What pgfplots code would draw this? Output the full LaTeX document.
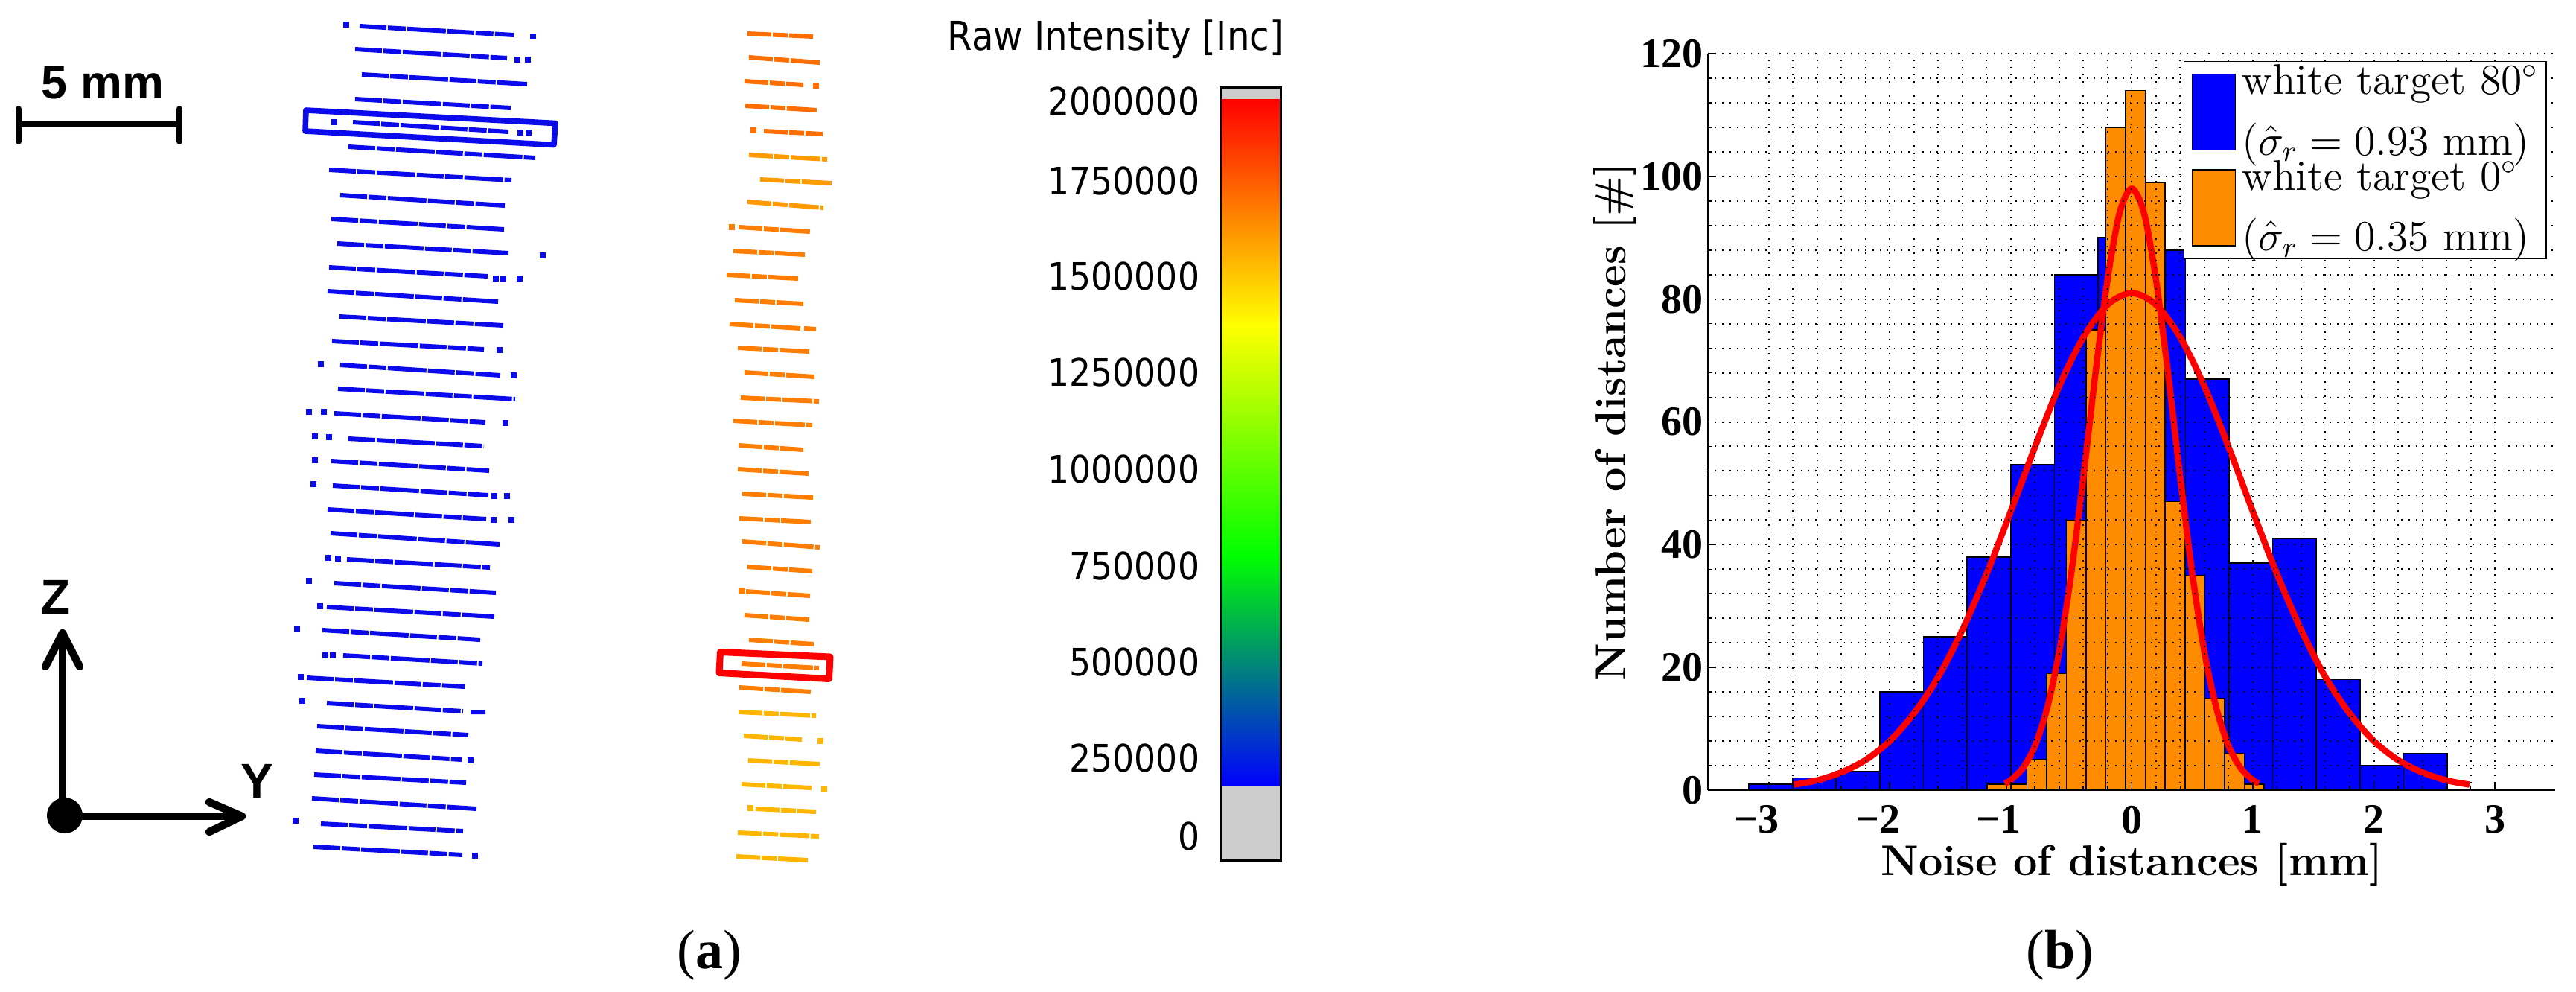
\documentclass[border=0pt]{standalone}
\usepackage{pgfplots}
\pgfplotsset{compat=1.18}
\usepackage{fontspec}
\newfontfamily\cbfont{DejaVu Sans}[FakeStretch=0.9]
\newfontfamily\arial{Liberation Sans}
\newfontfamily\tnr{Liberation Serif}
\definecolor{scanblue}{RGB}{10,10,235}
\definecolor{orA}{RGB}{255,110,0}
\definecolor{orB}{RGB}{255,155,0}
\definecolor{orC}{RGB}{255,125,0}
\definecolor{orD}{RGB}{255,182,0}
\definecolor{histblue}{RGB}{0,0,255}
\definecolor{historange}{RGB}{255,140,0}
\definecolor{cbgray}{RGB}{204,204,204}
\pgfplotsset{bigpatch/.style={legend image code/.code={\draw[##1] (0pt,-12.75pt) rectangle (14.5pt,12.75pt);}}}
\begin{document}
\begin{tikzpicture}
% ---------- panel (a): drawn in an invisible axis whose units are image pixels ----------
\begin{axis}[at={(0,0)}, anchor=south west, x=0.25pt, y=0.25pt, y dir=reverse,
  xmin=0, xmax=3460, ymin=0, ymax=1331, hide axis, clip=false,
  unbounded coords=jump,
  colormap={cbmap}{rgb255=(0,0,255) rgb255=(0,255,0) rgb255=(255,255,0) rgb255=(255,0,0)}]
\path (axis cs:0,0) rectangle (axis cs:3460,1331);
\coordinate (hb) at (axis cs:2294.2,1061);

% blue scan lines (80 deg)
\addplot[scanblue, line width=1.5pt, dash pattern=on 9pt off 0.5pt on 6pt off 0.5pt on 13pt off 0.5pt] coordinates {
(483,35)(690,47) (nan,nan)
(477,66)(681,78) (nan,nan)
(486,100)(708,113) (nan,nan)
(477,133)(686,145) (nan,nan)
(474,164)(683,177) (nan,nan)
(468,197)(719,212) (nan,nan)
(442,228)(687,242) (nan,nan)
(457,262)(678,276) (nan,nan)
(445,294)(677,308) (nan,nan)
(453,327)(683,340) (nan,nan)
(442,359)(655,371) (nan,nan)
(440,391)(669,405) (nan,nan)
(456,425)(676,437) (nan,nan)
(446,458)(650,469) (nan,nan)
(457,490)(672,504) (nan,nan)
(454,522)(692,536) (nan,nan)
(449,555)(652,567) (nan,nan)
(468,589)(650,599) (nan,nan)
(445,619)(657,632) (nan,nan)
(447,652)(656,665) (nan,nan)
(440,684)(653,697) (nan,nan)
(444,716)(671,731) (nan,nan)
(466,751)(658,762) (nan,nan)
(449,783)(666,796) (nan,nan)
(439,815)(664,828) (nan,nan)
(433,846)(645,859) (nan,nan)
(461,880)(648,891) (nan,nan)
(412,910)(624,922) (nan,nan)
(439,944)(622,955) (nan,nan)
(632,956)(652,956) (nan,nan)
(426,975)(629,987) (nan,nan)
(424,1008)(620,1020) (nan,nan)
(422,1040)(626,1051) (nan,nan)
(419,1072)(640,1086) (nan,nan)
(431,1106)(622,1116) (nan,nan)
(421,1137)(621,1148)
};
\addplot[only marks, mark=square*, mark size=0.85pt, scanblue] coordinates {
(465,33) (716,49) (695,80) (709,80) (449,164) (699,178) (710,178) (729,343)
(666,374) (676,374) (698,374) (671,470) (431,489) (690,504) (415,553) (435,553)
(679,568) (423,586) (442,587) (423,618) (421,650) (664,666) (681,666) (663,698)
(687,698) (441,749) (454,750) (415,780) (430,814) (399,844) (437,880) (447,880)
(404,909) (406,941) (632,1021) (397,1102) (638,1149)};

% orange scan lines (0 deg)
\addplot[orA, line width=1.5pt, dash pattern=on 8pt off 0.5pt on 5pt off 0.5pt on 10pt off 0.5pt] coordinates {
(1004,45)(1092,49) (nan,nan)
(1006,77)(1101,84) (nan,nan)
(1000,109)(1079,114) (nan,nan)
(1001,142)(1098,148) (nan,nan)
(1026,176)(1105,180)
};
\addplot[orB, line width=1.5pt, dash pattern=on 8pt off 0.5pt on 5pt off 0.5pt on 10pt off 0.5pt] coordinates {
(1006,208)(1111,214) (nan,nan)
(1021,241)(1117,246) (nan,nan)
(1004,271)(1106,279)
};
\addplot[orC, line width=1.5pt, dash pattern=on 8pt off 0.5pt on 5pt off 0.5pt on 10pt off 0.5pt] coordinates {
(992,305)(1088,311) (nan,nan)
(985,337)(1082,342) (nan,nan)
(976,369)(1072,374) (nan,nan)
(987,403)(1079,408) (nan,nan)
(980,435)(1075,441) (nan,nan)
(1080,441)(1096,442) (nan,nan)
(991,467)(1087,472) (nan,nan)
(1000,500)(1094,506) (nan,nan)
(995,534)(1100,539) (nan,nan)
(985,565)(1091,571) (nan,nan)
(992,598)(1079,604) (nan,nan)
(991,630)(1086,636) (nan,nan)
(997,663)(1092,668) (nan,nan)
(993,696)(1090,701) (nan,nan)
(997,727)(1101,735) (nan,nan)
(1004,761)(1091,767) (nan,nan)
(1002,794)(1088,800) (nan,nan)
(1000,826)(1087,832) (nan,nan)
(1006,859)(1093,865) (nan,nan)
(996,891)(1100,897) (nan,nan)
(993,923)(1090,929)
};
\addplot[orD, line width=1.5pt, dash pattern=on 8pt off 0.5pt on 5pt off 0.5pt on 10pt off 0.5pt] coordinates {
(992,956)(1096,961) (nan,nan)
(999,988)(1077,993) (nan,nan)
(1005,1021)(1101,1026) (nan,nan)
(996,1053)(1090,1058) (nan,nan)
(1015,1086)(1096,1090) (nan,nan)
(991,1118)(1100,1123) (nan,nan)
(989,1150)(1085,1155)
};
\addplot[only marks, mark=square*, mark size=0.8pt, orA] coordinates {(1096,115) (1012,175)};
\addplot[only marks, mark=square*, mark size=0.8pt, orC] coordinates {(983,305) (996,793)};
\addplot[only marks, mark=square*, mark size=0.8pt, orD] coordinates {(1102,995) (1107,1060) (1008,1085)};

% highlight boxes
\addplot[scanblue, line width=1.9pt, line join=round] coordinates {(411,148) (746,165.5) (744,194.5) (410,176)} -- cycle;
\addplot[red, line width=2.25pt, line join=round] coordinates {(967.5,875.5) (1115,882) (1113.5,911.5) (966,903.5)} -- cycle;

% scale bar
\addplot[black, line width=2.1pt, line cap=round] coordinates {(25,167) (241,167)};
\addplot[black, line width=1.8pt, line cap=round] coordinates {(25,146) (25,190)};
\addplot[black, line width=1.8pt, line cap=round] coordinates {(241,146) (241,190)};
\node[anchor=base, inner sep=0pt, font=\arial\bfseries\fontsize{15.7}{18}\selectfont] at (axis cs:138,132) {5 mm};

% Z / Y frame
\addplot[black, line width=2.6pt, line cap=round] coordinates {(84,1095) (84,852)};
\addplot[black, line width=2.6pt, line cap=round, line join=round] coordinates {(61,895) (84,850) (107,895)};
\addplot[black, line width=2.6pt, line cap=round] coordinates {(87,1096) (323,1096)};
\addplot[black, line width=2.6pt, line cap=round, line join=round] coordinates {(281,1077) (325,1096) (281,1117)};
\addplot[only marks, mark=*, mark size=5.8pt, black] coordinates {(87,1095)};
\node[anchor=base, inner sep=0pt, font=\arial\bfseries\fontsize{16.4}{18}\selectfont] at (axis cs:75,824) {Z};
\node[anchor=base, inner sep=0pt, font=\arial\bfseries\fontsize{16.4}{18}\selectfont] at (axis cs:345,1071) {Y};

% colour bar
\addplot[patch, shader=interp, point meta=explicit] coordinates {
(1641,132.6) [3] (1719,132.6) [3] (1719,437) [2]
(1641,132.6) [3] (1719,437) [2] (1641,437) [2]
(1641,437) [2] (1719,437) [2] (1719,745) [1]
(1641,437) [2] (1719,745) [1] (1641,745) [1]
(1641,745) [1] (1719,745) [1] (1719,1056.4) [0]
(1641,745) [1] (1719,1056.4) [0] (1641,1056.4) [0]
};
\addplot[fill=cbgray, draw=none] coordinates {(1640,118) (1720,118) (1720,132.6) (1640,132.6)} -- cycle;
\addplot[fill=cbgray, draw=none] coordinates {(1640,1056.4) (1720,1056.4) (1720,1155) (1640,1155)} -- cycle;
\addplot[black, line width=0.8pt] coordinates {(1639.5,117.5) (1720.5,117.5) (1720.5,1155.5) (1639.5,1155.5)} -- cycle;
\node[anchor=base, inner sep=0pt, font=\cbfont\fontsize{13.4}{15}\selectfont] at (axis cs:1498.4,67) {Raw Intensity [Inc]};
\begin{scope}[every node/.style={anchor=east, inner sep=0pt, font=\cbfont\fontsize{12.7}{14}\selectfont}]
\node at (axis cs:1612,135.5) {2000000};
\node at (axis cs:1612,243) {1750000};
\node at (axis cs:1612,371.4) {1500000};
\node at (axis cs:1612,500.4) {1250000};
\node at (axis cs:1612,629.5) {1000000};
\node at (axis cs:1612,760) {750000};
\node at (axis cs:1612,888.8) {500000};
\node at (axis cs:1612,1018.3) {250000};
\node at (axis cs:1612,1123.2) {0};
\end{scope}

% sub-figure captions
\node[anchor=base, inner sep=0pt, font=\tnr\fontsize{18.5}{20}\selectfont] at (axis cs:953,1300) {(\textbf{a})};
\node[anchor=base, inner sep=0pt, font=\tnr\fontsize{18.5}{20}\selectfont] at (axis cs:2767,1300) {(\textbf{b})};
\end{axis}

% ---------- panel (b): histogram ----------
\begin{axis}[at={(hb)}, anchor=south west,
  width=284.55pt, height=247.25pt, scale only axis,
  xmin=-3.5, xmax=3.5, ymin=0, ymax=120,
  axis x line*=bottom, axis y line*=left,
  axis line style={black, line width=0.5pt},
  tick align=inside,
  xtick={-3,-2,-1,0,1,2,3},
  xticklabels={\llap{−}3,\llap{−}2,\llap{−}1,0,1,2,3},
  ytick={0,20,40,60,80,100,120},
  yticklabels={0,20,40,60,80,100,120},
  minor x tick num=4, minor y tick num=4,
  major tick length=2.5pt, minor tick length=1.5pt,
  tick style={black, line width=0.4pt},
  grid=both,
  major grid style={black, dotted, line width=0.5pt},
  minor grid style={black, dotted, line width=0.5pt},
  axis on top,
  tick label style={font=\tnr\bfseries\fontsize{14}{16}\selectfont},
  xticklabel style={inner ysep=5pt},
  yticklabel style={inner xsep=1.6pt},
  xlabel={Noise of distances [mm]},
  ylabel={Number of distances [\#]},
  label style={font=\bfseries\fontsize{14.4}{17}\selectfont},
  x label style={at={(axis description cs:0.5,-0.1153)}, anchor=base},
  y label style={at={(axis description cs:-0.0973,0.5)}, anchor=base},
  legend cell align=left,
  legend style={at={(0.99,0.99)}, anchor=north east, draw=black, line width=0.4pt, fill=white,
    inner xsep=2.6pt, inner ysep=1pt, row sep=0.25pt, column sep=2.1pt,
    font=\fontsize{14.4}{17.9}\selectfont, nodes={inner sep=0pt, align=left}},
]
\addplot[ybar interval, fill=histblue, draw=black, line width=0.4pt, bigpatch] coordinates {
(-3.163,1) (-2.802,2) (-2.442,3) (-2.081,16) (-1.721,25) (-1.360,38) (-0.999,53) (-0.639,84)
(-0.278,90) (0.082,88) (0.443,67) (0.804,37) (1.164,41) (1.525,18) (1.885,4) (2.246,6) (2.607,0)};
\addlegendentry{white target 80$^\circ$\\[2.5pt]($\hat{\sigma}_r = 0.93$ mm)}
\addplot[ybar interval, fill=historange, draw=black, line width=0.4pt, bigpatch] coordinates {
(-1.194,1) (-1.031,1) (-0.867,5) (-0.704,19) (-0.541,44) (-0.377,75) (-0.214,108) (-0.051,114)
(0.113,99) (0.276,47) (0.439,35) (0.602,15) (0.766,6) (0.929,1) (1.092,0)};
\addlegendentry{white target 0$^\circ$\\[2.5pt]($\hat{\sigma}_r = 0.35$ mm)}
\addplot[red, line width=2.1pt, smooth, forget plot] coordinates {
(-2.79,0.9) (-2.6,1.6) (-2.4,2.9) (-2.2,4.9) (-2.0,8.0) (-1.8,12.5) (-1.6,18.4) (-1.4,26.1)
(-1.2,35.2) (-1.0,45.4) (-0.8,55.9) (-0.6,65.8) (-0.4,73.8) (-0.2,79.1) (0,81)
(0.2,79.1) (0.4,73.8) (0.6,65.8) (0.8,55.9) (1.0,45.4) (1.2,35.2) (1.4,26.1) (1.6,18.4)
(1.8,12.5) (2.0,8.0) (2.2,4.9) (2.4,2.9) (2.6,1.6) (2.79,0.9)};
\addplot[red, line width=2.1pt, smooth, forget plot] coordinates {
(-1.05,1.1) (-1.0,1.65) (-0.9,3.6) (-0.8,7.2) (-0.7,13.3) (-0.6,22.5) (-0.5,35.3) (-0.4,51.0)
(-0.3,67.9) (-0.2,83.2) (-0.1,94.1) (0,98) (0.1,94.1) (0.2,83.2) (0.3,67.9) (0.4,51.0)
(0.5,35.3) (0.6,22.5) (0.7,13.3) (0.8,7.2) (0.9,3.6) (1.0,1.65) (1.05,1.1)};
\end{axis}
\end{tikzpicture}
\end{document}
